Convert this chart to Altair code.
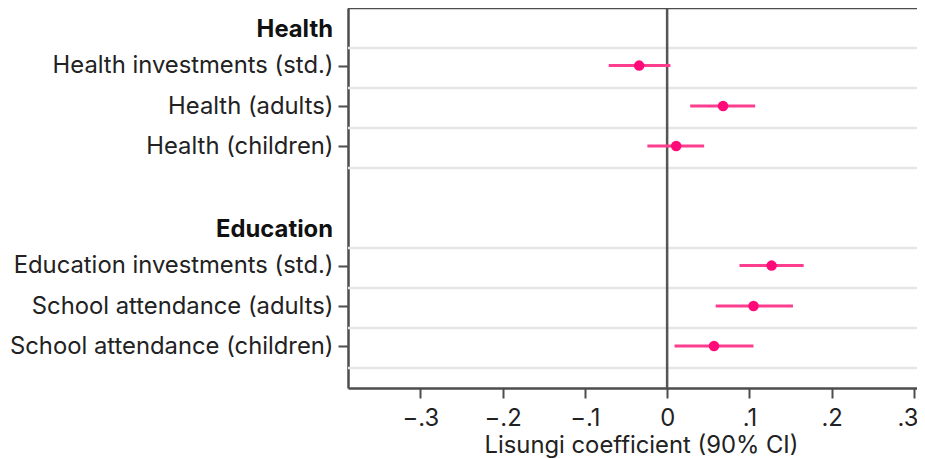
import altair as alt
import pandas as pd

# ---- data ----
labels = [
    "Health investments (std.)",
    "Health (adults)",
    "Health (children)",
    "Education investments (std.)",
    "School attendance (adults)",
    "School attendance (children)",
]
row_pos = [1.44, 2.45, 3.45, 6.44, 7.45, 8.45]
coef = [-0.034, 0.068, 0.011, 0.127, 0.105, 0.057]
ci_lo = [-0.071, 0.028, -0.024, 0.088, 0.059, 0.009]
ci_hi = [0.004, 0.107, 0.045, 0.166, 0.153, 0.105]

headers = ["Health", "Education"]
header_pos = [0.56, 5.56]

grid_pos = [1, 2, 3, 4, 6, 7, 8, 9]
x_ticks = [-0.3, -0.2, -0.1, 0.0, 0.1, 0.2, 0.3]
x_title = "Lisungi coefficient (90% CI)"

# ---- styling ----
FONT = "Inter"
FS = 23.8
FRAME = "#4d4d4d"
PINK_PT = "#ff0a78"
PINK_LN = "#ff3d8e"

df = pd.DataFrame({"label": labels, "pos": row_pos, "coef": coef, "lo": ci_lo, "hi": ci_hi})
hdr = pd.DataFrame({"label": headers, "pos": header_pos})
grid = pd.DataFrame({"pos": grid_pos})
zero = pd.DataFrame({"x": [0.0]})

label_expr = " : ".join(f"datum.value == {p} ? '{l}'" for p, l in zip(row_pos, labels)) + " : ''"
x_label_expr = "datum.value == 0 ? '0' : replace(format(datum.value, '.1f'), '0.', '.')"

xscale = alt.Scale(domain=[-0.388, 0.3038], nice=False, zero=False)
yscale = alt.Scale(domain=[0, 9.5], nice=False, zero=False, reverse=True)

yaxis = alt.Axis(
    values=row_pos, labelExpr=label_expr, title=None, grid=False,
    tickSize=10, tickWidth=2, tickColor=FRAME, domainColor=FRAME, domainWidth=2.5,
    labelFont=FONT, labelFontSize=FS, labelColor="#222", labelPadding=5, labelLimit=400,
)
xaxis = alt.Axis(
    values=x_ticks, labelExpr=x_label_expr, title=x_title, grid=False,
    tickSize=10, tickWidth=2, tickColor=FRAME, domainColor=FRAME, domainWidth=2.5,
    labelFont=FONT, labelFontSize=FS, labelColor="#222", labelPadding=8,
    labelFlush=10, labelFlushOffset=4,
    titleFont=FONT, titleFontSize=FS, titleFontWeight="normal", titleColor="#222",
    titleY=64, titleBaseline="alphabetic", titleX=293,
)

grid_layer = alt.Chart(grid).mark_rule(color="#e6e6e6", strokeWidth=2.5).encode(
    y=alt.Y("pos:Q", scale=yscale, axis=yaxis)
)
zero_layer = alt.Chart(zero).mark_rule(color="#555555", strokeWidth=2.5).encode(
    x=alt.X("x:Q", scale=xscale, axis=xaxis)
)
top_border = alt.Chart(zero).mark_rule(color=FRAME, strokeWidth=2.5).encode(
    y=alt.value(0), x=alt.value(0), x2=alt.value(569)
)
bars = alt.Chart(df).mark_rule(color=PINK_LN, strokeWidth=3).encode(
    x=alt.X("lo:Q", scale=xscale), x2="hi:Q", y=alt.Y("pos:Q", scale=yscale)
)
points = alt.Chart(df).mark_circle(color=PINK_PT, size=110, opacity=1).encode(
    x=alt.X("coef:Q", scale=xscale), y=alt.Y("pos:Q", scale=yscale)
)
header_layer = alt.Chart(hdr).mark_text(
    align="right", baseline="middle", font=FONT, fontSize=FS, fontWeight="bold", color="#111"
).encode(x=alt.value(-15), y=alt.Y("pos:Q", scale=yscale), text="label:N")

chart = alt.layer(grid_layer, zero_layer, bars, points, header_layer, top_border).properties(
    width=569, height=380,
    autosize=alt.AutoSizeParams(type="none"),
    padding={"left": 340, "top": 0, "right": 0, "bottom": 75},
).configure(background="white", view=alt.ViewConfig(strokeOpacity=0, strokeWidth=0))

chart.save("out.html", embed_options={"renderer": "svg", "actions": False})
